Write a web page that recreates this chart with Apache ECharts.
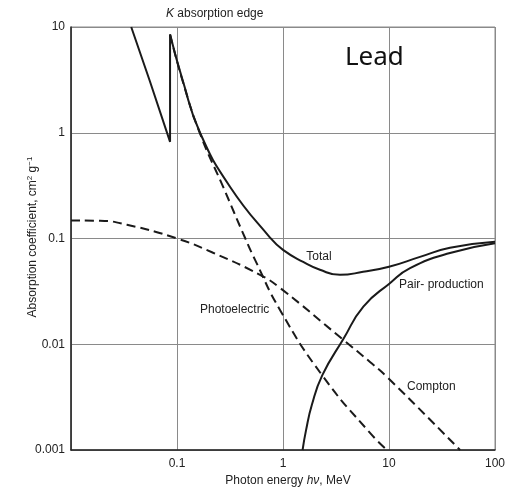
<!DOCTYPE html>
<html>
<head>
<meta charset="utf-8">
<script src="https://cdn.jsdelivr.net/npm/echarts@6/dist/echarts.min.js"></script>
<style>
  html, body { margin: 0; padding: 0; background: #fff; }
  #chart { width: 510px; height: 493px; }
</style>
</head>
<body>
<div id="chart"></div>
<script>
// Tick labels shown on the two log axes
const xTickLabels = ['0.1', '1', '10', '100'];
const yTickLabels = ['0.001', '0.01', '0.1', '1', '10'];

// Mass absorption coefficients of lead, [photon energy MeV, cm^2/g]
const totalBelowEdge = [[0.037, 10], [0.0556, 3.05], [0.086, 0.82], [0.086, 8.5]];
const totalAboveEdge = [[0.086, 8.5], [0.114, 3.05], [0.165, 1.0], [0.316, 0.309], [0.754, 0.102],
  [1.0, 0.078], [1.55, 0.060], [2.23, 0.0506], [3.45, 0.0453], [5.7, 0.0484], [10, 0.054],
  [19.6, 0.067], [37.6, 0.0817], [100, 0.093]];
const photoelectric = [[0.086, 8.5], [0.114, 3.0], [0.165, 0.98], [0.272, 0.309], [0.438, 0.1016],
  [0.545, 0.0628], [0.937, 0.0211], [2.37, 0.005], [6.62, 0.00145], [9.57, 0.001]];
const compton = [[0.01, 0.148], [0.0188, 0.147], [0.0337, 0.135], [0.1, 0.1], [0.219, 0.0733],
  [0.607, 0.0453], [0.937, 0.0341], [3.71, 0.011], [6.62, 0.0068], [9.6, 0.0049], [46.8, 0.001]];
const pairProduction = [[1.53, 0.001], [1.65, 0.00154], [1.87, 0.00266], [2.35, 0.0051], [3.71, 0.0112],
  [5.73, 0.0227], [10.2, 0.0378], [15.8, 0.0525], [37.6, 0.0728], [100, 0.090]];

const FONT = '"Liberation Sans", Arial, sans-serif';
const INK = '#1a1a1a';

function tickFormatter(labels) {
  return function (v) {
    const hit = labels.find(t => Math.abs(Math.log10(parseFloat(t)) - Math.log10(v)) < 1e-6);
    return hit || '';
  };
}

const solid = { color: INK, width: 2 };
const dashed = { color: INK, width: 2, type: [9, 5] };

const chart = echarts.init(document.getElementById('chart'), null, { renderer: 'canvas' });

chart.setOption({
  animation: false,
  backgroundColor: '#fff',
  grid: {
    left: 71, right: 15, top: 27, bottom: 43,
    show: true, borderColor: '#8a8a8a', borderWidth: 1
  },
  xAxis: {
    type: 'log', logBase: 10, min: 0.01, max: 100,
    axisLine: { show: true, onZero: false, lineStyle: { color: '#222', width: 1.5 } },
    axisTick: { show: false },
    minorTick: { show: false },
    splitLine: { show: true, lineStyle: { color: '#8a8a8a', width: 1 } },
    axisLabel: {
      formatter: tickFormatter(xTickLabels), margin: 8,
      color: '#222', fontSize: 12, fontFamily: FONT, showMinLabel: true, showMaxLabel: true
    }
  },
  yAxis: {
    type: 'log', logBase: 10, min: 0.001, max: 10,
    axisLine: { show: true, onZero: false, lineStyle: { color: '#222', width: 1.5 } },
    axisTick: { show: false },
    minorTick: { show: false },
    splitLine: { show: true, lineStyle: { color: '#8a8a8a', width: 1 } },
    axisLabel: {
      formatter: tickFormatter(yTickLabels), margin: 6,
      color: '#222', fontSize: 12, fontFamily: FONT
    }
  },
  series: [
    { name: 'Compton', type: 'line', data: compton, showSymbol: false, smooth: 0.5,
      lineStyle: dashed, clip: true, z: 2 },
    { name: 'Photoelectric', type: 'line', data: photoelectric, showSymbol: false, smooth: 0.5,
      lineStyle: dashed, clip: true, z: 2 },
    { name: 'Pair-production', type: 'line', data: pairProduction, showSymbol: false, smooth: 0.5,
      lineStyle: solid, clip: true, z: 3 },
    { name: 'Total (below K edge)', type: 'line', data: totalBelowEdge, showSymbol: false, smooth: false,
      lineStyle: solid, clip: true, z: 4 },
    { name: 'Total', type: 'line', data: totalAboveEdge, showSymbol: false, smooth: 0.5,
      lineStyle: solid, clip: true, z: 4 }
  ],
  graphic: [
    { type: 'text', left: 166, top: 8, z: 10,
      style: { text: '{i|K} absorption edge', fill: '#222', fontSize: 12, fontFamily: FONT,
        rich: { i: { fontStyle: 'italic', fontSize: 12, fontFamily: FONT, fill: '#222' } } } },
    { type: 'text', left: 345, top: 45, z: 10,
      style: { text: 'Lead', fill: '#111', fontSize: 26, fontFamily: '"Noto Sans", sans-serif' } },
    { type: 'text', x: 319, y: 257, z: 10,
      style: { text: 'Total', fill: '#222', fontSize: 12, fontFamily: FONT, align: 'center', verticalAlign: 'middle' } },
    { type: 'text', x: 200, y: 310, z: 10,
      style: { text: 'Photoelectric', fill: '#222', fontSize: 12, fontFamily: FONT, align: 'left', verticalAlign: 'middle' } },
    { type: 'text', x: 399, y: 285, z: 10,
      style: { text: 'Pair- production', fill: '#222', fontSize: 12, fontFamily: FONT, align: 'left', verticalAlign: 'middle' } },
    { type: 'text', x: 407, y: 387, z: 10,
      style: { text: 'Compton', fill: '#222', fontSize: 12, fontFamily: FONT, align: 'left', verticalAlign: 'middle' } },
    { type: 'text', x: 288, y: 481, z: 10,
      style: { text: 'Photon energy {i|hν}, MeV', fill: '#222', fontSize: 12, fontFamily: FONT,
        align: 'center', verticalAlign: 'middle',
        rich: { i: { fontStyle: 'italic', fontSize: 12, fontFamily: FONT, fill: '#222' } } } },
    { type: 'text', x: 33, y: 237, rotation: Math.PI / 2, z: 10,
      style: { text: 'Absorption coefficient, cm{sup|2} g{sup|−1}', fill: '#222', fontSize: 12, fontFamily: FONT,
        align: 'center', verticalAlign: 'middle',
        rich: { sup: { fontSize: 8, fontFamily: FONT, fill: '#222', verticalAlign: 'top', padding: [0, 0, 6, 0] } } } }
  ]
});
</script>
</body>
</html>
